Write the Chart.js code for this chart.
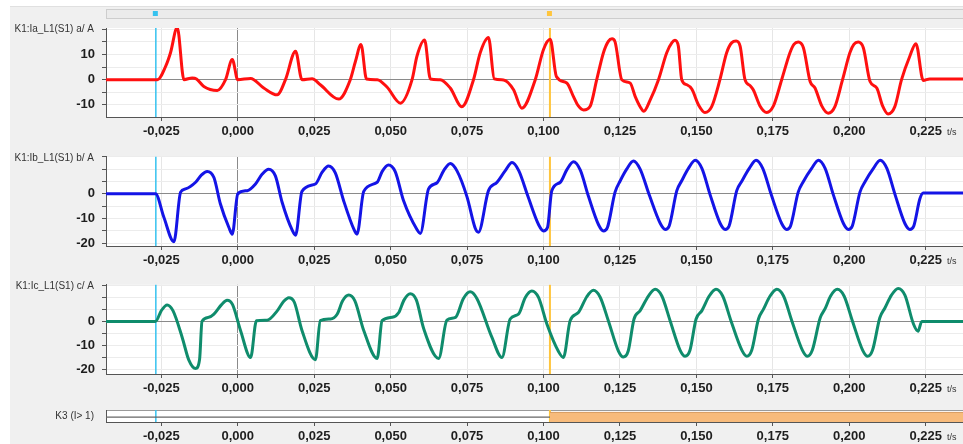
<!DOCTYPE html>
<html lang="de">
<head>
  <meta charset="UTF-8">
  <title>Störschrieb K1</title>
  <script src="https://cdn.jsdelivr.net/npm/chart.js"></script>
  <style>
    html, body { margin: 0; padding: 0; background: #fff; }
    #wrap { position: relative; width: 963px; height: 444px; overflow: hidden; }
    #bg { position: absolute; left: 10px; top: 6px; width: 953px; height: 438px; background: #f0f0f0; border-top: 1px solid #e0e0e0; }
    canvas { position: absolute; left: 0; }
  </style>
</head>
<body>
<div id="wrap">
  <div id="bg"></div>
  <canvas id="c1" width="963" height="137" style="top:5px"></canvas>
  <canvas id="c2" width="963" height="128" style="top:142px"></canvas>
  <canvas id="c3" width="963" height="128" style="top:270px"></canvas>
  <canvas id="c4" width="963" height="46" style="top:398px"></canvas>
</div>

<script>
    // Zeitachse (s)
    const tMin = -0.0431, tMax = 0.2372;
    const xTicks = [-0.025, 0, 0.025, 0.05, 0.075, 0.1, 0.125, 0.15, 0.175, 0.2, 0.225];
    const xTickLabels = ['-0,025', '0,000', '0,025', '0,050', '0,075', '0,100', '0,125', '0,150', '0,175', '0,200', '0,225'];

    // Cursor (blau / gelb)
    const cursorT = [-0.0268, 0.1021];
    const cursorColor = ['#35c2ef', '#ffc53d'];

    // K1: Ia
    const tA = [-0.0431, -0.0263, -0.0236, -0.0220, -0.0198, -0.0176, -0.0149, -0.0135, -0.0111, -0.0067,
        -0.0040, -0.0018, 0.0000, 0.0042, 0.0085, 0.0129, 0.0156, 0.0189, 0.0210, 0.0243,
        0.0270, 0.0330, 0.0368, 0.0385, 0.0403, 0.0421, 0.0456, 0.0488, 0.0532, 0.0570,
        0.0586, 0.0611, 0.0630, 0.0662, 0.0695, 0.0733, 0.0771, 0.0793, 0.0820, 0.0839,
        0.0869, 0.0902, 0.0929, 0.0973, 0.1000, 0.1022, 0.1042, 0.1076, 0.1098, 0.1114,
        0.1131, 0.1153, 0.1174, 0.1196, 0.1212, 0.1224, 0.1234, 0.1256, 0.1283, 0.1300,
        0.1316, 0.1328, 0.1349, 0.1376, 0.1403, 0.1420, 0.1430, 0.1441, 0.1452, 0.1469,
        0.1485, 0.1507, 0.1528, 0.1550, 0.1577, 0.1599, 0.1616, 0.1630, 0.1643, 0.1659,
        0.1676, 0.1686, 0.1708, 0.1730, 0.1752, 0.1779, 0.1806, 0.1819, 0.1833, 0.1850,
        0.1872, 0.1888, 0.1910, 0.1931, 0.1953, 0.1978, 0.2002, 0.2015, 0.2029, 0.2046,
        0.2068, 0.2090, 0.2109, 0.2127, 0.2149, 0.2171, 0.2198, 0.2218, 0.2242, 0.2263,
        0.2372];
    const iA = [0, 0, 5.3, 10.7, 20.7, 0, 0.7, 0.3, -2.7, -4.3,
        0, 8, 0, 0.5, -3.3, -6, 0, 11.3, 0, 0.4,
        -2, -7.7, 0, 7.3, 14, 0.3, 0, -2.9, -9.3, 0,
        9.3, 15.7, 0.3, 0, -3.3, -10.7, 0, 10.7, 16.7, 0.3,
        -0.1, -4, -11.3, 0, 12, 16, 1.3, -1.3, -6.7, -10.4,
        -12, -10.4, 0, 10.7, 15.2, 16.2, 15, 0, -1.3, -6.7,
        -10.7, -12.5, -8, 0, 10.7, 14.7, 15.6, 13.3, 0, -2,
        -3.7, -10, -13, -10.7, 0, 10.7, 14.7, 15.3, 13.3, 0,
        -2.4, -4, -10.4, -13, -10.4, 0, 10.7, 14, 14.9, 12.7,
        -0.7, -3.3, -10.4, -13.3, -10.7, 0, 10.7, 14, 14.9, 12.7,
        -0.7, -3.3, -10.4, -13.6, -10.7, 0, 9.3, 14.3, -0.3, 0.3,
        0.3];
    const yTicksA = [-10, -5, 0, 5, 10, 15, 20];
    const yLabelsA = ['-10', '', '0', '', '10', '', ''];

    // K1: Ib
    const tB = [-0.0431, -0.0269, -0.0242, -0.0209, -0.0187, -0.0171, -0.0138, -0.0120, -0.0100, -0.0078,
        -0.0057, -0.0029, -0.0018, 0.0000, 0.0031, 0.0058, 0.0080, 0.0101, 0.0123, 0.0145,
        0.0178, 0.0189, 0.0210, 0.0254, 0.0276, 0.0297, 0.0319, 0.0346, 0.0380, 0.0390,
        0.0412, 0.0456, 0.0472, 0.0493, 0.0515, 0.0542, 0.0586, 0.0597, 0.0624, 0.0652,
        0.0674, 0.0695, 0.0717, 0.0750, 0.0777, 0.0787, 0.0820, 0.0848, 0.0875, 0.0897,
        0.0919, 0.0949, 0.0984, 0.1000, 0.1013, 0.1027, 0.1055, 0.1076, 0.1098, 0.1120,
        0.1147, 0.1180, 0.1196, 0.1209, 0.1234, 0.1251, 0.1272, 0.1294, 0.1316, 0.1346,
        0.1382, 0.1398, 0.1411, 0.1436, 0.1452, 0.1474, 0.1496, 0.1518, 0.1545, 0.1578,
        0.1594, 0.1607, 0.1632, 0.1648, 0.1673, 0.1695, 0.1717, 0.1745, 0.1779, 0.1795,
        0.1808, 0.1833, 0.1850, 0.1877, 0.1899, 0.1921, 0.1948, 0.1981, 0.1997, 0.2010,
        0.2035, 0.2052, 0.2079, 0.2101, 0.2123, 0.2150, 0.2182, 0.2198, 0.2211, 0.2231,
        0.2242, 0.2372];
    const iB = [0, 0, -9.4, -19.4, 0.7, 2, 4.7, 7.5, 9.1, 6.6,
        -4, -13.6, -16.3, 0, 1.3, 4, 8, 10, 7.3, -3.4,
        -14.7, -16.7, 1, 4, 8.8, 11.3, 8.5, -2.7, -14.4, -16.3,
        1, 4.7, 9, 11.7, 9, -2.7, -14.4, -16, 2, 4.5,
        9.5, 12.3, 9.3, -1.3, -14, -15.5, 1.3, 4.7, 9.4, 12.7,
        9.4, -1, -12.5, -15, -13.6, 1.3, 4.7, 9.7, 13, 9.7,
        -1, -12.5, -15, -13.6, 0.7, 5.3, 10, 13.3, 10, -0.5,
        -12, -14.4, -13, 1.3, 5.3, 10.3, 13.6, 10.3, -0.4, -12,
        -14.4, -13, 1.3, 5, 10.3, 13.6, 10.3, -0.4, -12, -14.4,
        -13, 0.7, 5, 10.3, 13.6, 10.3, -0.4, -12, -14.4, -13,
        0.7, 5, 10.3, 13.6, 10.3, -0.4, -12, -14.4, -13, -2,
        0.3, 0.3];
    const yTicksB = [-20, -15, -10, -5, 0, 5, 10, 15];
    const yLabelsB = ['-20', '', '-10', '', '0', '', '', ''];

    // K1: Ic
    const tC = [-0.0431, -0.0269, -0.0250, -0.0231, -0.0212, -0.0182, -0.0160, -0.0138, -0.0125, -0.0117,
        -0.0095, -0.0078, -0.0053, -0.0035, -0.0017, 0.0009, 0.0042, 0.0061, 0.0096, 0.0129,
        0.0149, 0.0167, 0.0185, 0.0210, 0.0254, 0.0270, 0.0303, 0.0325, 0.0343, 0.0363,
        0.0383, 0.0412, 0.0456, 0.0472, 0.0505, 0.0526, 0.0544, 0.0564, 0.0584, 0.0608,
        0.0657, 0.0684, 0.0712, 0.0738, 0.0760, 0.0782, 0.0831, 0.0864, 0.0891, 0.0918,
        0.0940, 0.0962, 0.0984, 0.1011, 0.1049, 0.1065, 0.1087, 0.1114, 0.1141, 0.1163,
        0.1185, 0.1212, 0.1245, 0.1261, 0.1277, 0.1296, 0.1316, 0.1343, 0.1365, 0.1387,
        0.1414, 0.1447, 0.1463, 0.1479, 0.1499, 0.1518, 0.1542, 0.1564, 0.1586, 0.1613,
        0.1649, 0.1665, 0.1681, 0.1703, 0.1719, 0.1741, 0.1763, 0.1785, 0.1812, 0.1847,
        0.1863, 0.1879, 0.1905, 0.1921, 0.1939, 0.1961, 0.1983, 0.2010, 0.2044, 0.2060,
        0.2076, 0.2100, 0.2117, 0.2138, 0.2160, 0.2182, 0.2210, 0.2225, 0.2237, 0.2372];
    const iC = [0, 0, 4.5, 6.9, 4.5, -6.6, -16.2, -19.7, -16, 0,
        1.7, 3.0, 7, 8.8, 7, -3.8, -15.1, 0.3, 0.5, 4.4,
        8.2, 9.9, 8, -3.8, -16, 0.3, 1, 3, 8.6, 11,
        8.6, -3.8, -15.5, 0.3, 1.7, 3.6, 9, 11.6, 9, -3,
        -15.5, 0.5, 1.7, 9.6, 12.4, 9.6, -6.6, -15.1, 1, 3,
        9.9, 12.7, 9.9, -1.1, -12.6, -15.1, 0.3, 3.7, 10.2, 13,
        10.2, 0.3, -12.4, -14.9, -12.4, 1, 4.5, 10.6, 13.4, 10.6,
        0.3, -12.1, -14.6, -12.1, 1, 4.5, 10.6, 13.4, 10.6, 0.3,
        -12.1, -14.6, -12.1, 1, 5, 10.6, 13.4, 10.6, 0.3, -12.1,
        -14.6, -12.1, 1.5, 5.3, 10.6, 13.4, 10.6, 0.3, -12.1, -14.6,
        -12.1, 1.5, 5.7, 11, 13.8, 11, -1.1, -4.1, 0, 0];
    const yTicksC = [-20, -15, -10, -5, 0, 5, 10, 15];
    const yLabelsC = ['-20', '', '-10', '', '0', '', '', ''];

    // K3 (I> 1): Binärspur
    const tK3 = [-0.0431, 0.1021, 0.1021, 0.2372];
    const sK3 = [0, 0, 1, 1];

    const FONT = 'Liberation Sans, Arial, sans-serif';

    const panelPlugin = {
        id: 'panel',
        beforeDraw(chart, args, o) {
            const { ctx, chartArea: a } = chart;
            ctx.save();
            ctx.fillStyle = '#fff';
            ctx.fillRect(a.left, a.top, a.right - a.left, a.bottom - a.top);
            if (o.box) {
                ctx.strokeStyle = '#9a9a9a';
                ctx.lineWidth = 1;
                ctx.strokeRect(a.left + 0.5, a.top + 0.5, a.right - a.left, a.bottom - a.top);
            }
            if (o.strip) {
                // Cursor-Leiste oben
                ctx.fillStyle = '#ebebeb';
                ctx.fillRect(a.left, a.top - 19, a.right - a.left, 9);
                ctx.strokeStyle = '#cdcdcd';
                ctx.strokeRect(a.left + 0.5, a.top - 18.5, a.right - a.left, 9);
                cursorT.forEach((t, i) => {
                    const px = chart.scales.x.getPixelForValue(t);
                    ctx.fillStyle = cursorColor[i];
                    ctx.fillRect(px - 3, a.top - 17, 5, 5);
                });
            }
            ctx.restore();
        },
        beforeDatasetsDraw(chart) {
            const { ctx, chartArea: a } = chart;
            ctx.save();
            cursorT.forEach((t, i) => {
                const px = chart.scales.x.getPixelForValue(t);
                ctx.strokeStyle = cursorColor[i];
                ctx.lineWidth = i === 0 ? 1.5 : 2;
                ctx.beginPath();
                ctx.moveTo(px, a.top);
                ctx.lineTo(px, a.bottom);
                ctx.stroke();
            });
            ctx.restore();
        },
        afterDraw(chart, args, o) {
            const { ctx, chartArea: a } = chart;
            ctx.save();
            ctx.fillStyle = '#333';
            ctx.textAlign = 'right';
            ctx.textBaseline = 'middle';
            ctx.font = '10px ' + FONT;
            const ly = o.mid ? (a.top + a.bottom) / 2 : a.top + 1;
            ctx.fillText(o.label, a.left - 12, ly);
            ctx.textAlign = 'left';
            ctx.font = '9px ' + FONT;
            ctx.fillText('t/s', 947, a.bottom + 16);
            ctx.restore();
        }
    };

    function xScale(h) {
        return {
            type: 'linear', min: tMin, max: tMax,
            afterFit: s => { s.height = h; },
            afterBuildTicks: s => { s.ticks = xTicks.map(v => ({ value: v })); },
            border: { display: true, color: '#555', width: 1 },
            grid: {
                color: c => (c.tick && c.tick.value === 0) ? '#8a8a8a' : '#e6e6e6',
                tickColor: '#555', tickLength: 4, drawOnChartArea: h !== 22
            },
            ticks: {
                autoSkip: false, maxRotation: 0, padding: 3, color: '#1e1e1e',
                font: { family: FONT, size: 13, weight: 'bold' },
                callback: (v, i) => xTickLabels[i]
            }
        };
    }

    function yScale(min, max, ticks, labels) {
        return {
            type: 'linear', min, max,
            afterFit: s => { s.width = 106; },
            afterBuildTicks: s => { s.ticks = ticks.map(v => ({ value: v })); },
            border: { display: true, color: '#555', width: 1 },
            grid: {
                color: c => (c.tick && c.tick.value === 0) ? '#8a8a8a' : '#ececec',
                tickColor: '#555', tickLength: 4
            },
            ticks: {
                autoSkip: false, padding: 7, color: '#1e1e1e',
                font: { family: FONT, size: 13, weight: 'bold' },
                callback: (v, i) => labels[i]
            }
        };
    }

    function points(t, v) {
        return t.map((ti, i) => ({ x: ti, y: v[i] }));
    }

    function makePanel(id, opts) {
        return new Chart(document.getElementById(id), {
            type: 'line',
            data: { datasets: opts.datasets },
            options: {
                responsive: false,
                animation: false,
                events: [],
                layout: { padding: { top: opts.padTop, left: 0, right: 0, bottom: 0 } },
                elements: { point: { radius: 0 } },
                plugins: {
                    legend: { display: false },
                    tooltip: { enabled: false },
                    panel: opts.panel
                },
                scales: { x: xScale(opts.xh), y: opts.y }
            },
            plugins: [panelPlugin]
        });
    }

    function curve(t, v, color) {
        return {
            data: points(t, v), borderColor: color, borderWidth: 3,
            cubicInterpolationMode: 'monotone', borderJoinStyle: 'round', borderCapStyle: 'round'
        };
    }

    makePanel('c1', {
        padTop: 23, xh: 25,
        y: yScale(-14.8, 20.5, yTicksA, yLabelsA),
        datasets: [curve(tA, iA, '#ff1010')],
        panel: { label: 'K1:Ia_L1(S1) a/ A', strip: true }
    });

    makePanel('c2', {
        padTop: 14, xh: 24,
        y: yScale(-21.1, 15, yTicksB, yLabelsB),
        datasets: [curve(tB, iB, '#1414e6')],
        panel: { label: 'K1:Ib_L1(S1) b/ A' }
    });

    makePanel('c3', {
        padTop: 14, xh: 24,
        y: yScale(-22, 15.3, yTicksC, yLabelsC),
        datasets: [curve(tC, iC, '#0f8c6c')],
        panel: { label: 'K1:Ic_L1(S1) c/ A' }
    });

    const k3Off = tK3.map((t, i) => ({ x: t, y: sK3[i] === 0 ? 0 : null })).filter(p => p.y !== null);
    const k3On = tK3.map((t, i) => ({ x: t, y: sK3[i] === 1 ? 1 : null })).filter(p => p.y !== null);

    makePanel('c4', {
        padTop: 12, xh: 22,
        y: {
            type: 'linear', min: -1, max: 1.5,
            afterFit: s => { s.width = 106; },
            border: { display: true, color: '#555', width: 1 },
            grid: { display: false },
            ticks: { display: false }
        },
        datasets: [
            { data: k3Off, borderColor: '#666', borderWidth: 1.2, tension: 0 },
            { data: k3On, borderColor: '#d6975a', borderWidth: 1, backgroundColor: '#f8bb7b', fill: { value: -1 }, tension: 0 }
        ],
        panel: { label: 'K3 (I> 1)', mid: true, box: true }
    });
</script>
</body>
</html>
